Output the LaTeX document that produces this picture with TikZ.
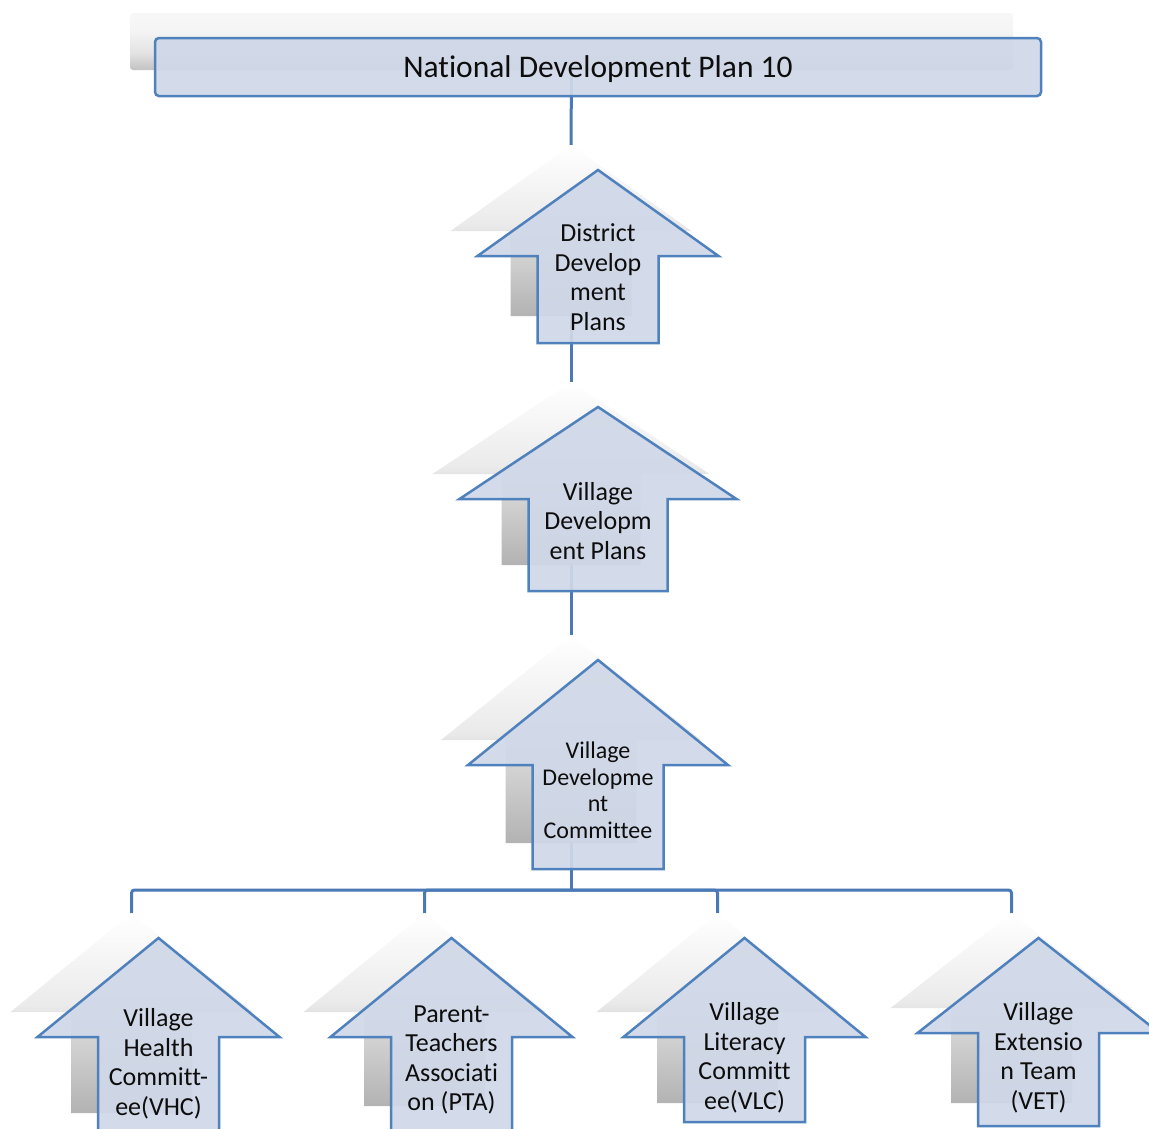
\documentclass[tikz,border=0pt]{standalone}
\usepackage{fontspec}
\setmainfont{Carlito}[Ligatures={NoCommon}]
\definecolor{arrowfill}{RGB}{208,216,232}
\definecolor{arrowline}{RGB}{79,129,189}
\definecolor{connline}{RGB}{74,122,181}
\pgfdeclareverticalshading{shadowgrad}{100bp}{color(0bp)=(black!30); color(25bp)=(black!30); color(45bp)=(black!16); color(52bp)=(black!8); color(75bp)=(white); color(100bp)=(white)}
\pgfdeclareverticalshading{boxgrad}{100bp}{color(0bp)=(black!24); color(25bp)=(black!24); color(40bp)=(black!11); color(60bp)=(black!4); color(75bp)=(black!3); color(100bp)=(black!3)}
\tikzset{
  shadowshade/.style={shading=shadowgrad, draw=none},
  arrowbox/.style={draw=arrowline, line width=2.5pt, fill=arrowfill, fill opacity=0.93, line join=miter},
  conn/.style={draw=connline, line width=3pt},
  arrowtext/.style={align=center, text=black!95, font=\fontsize{26}{29.5}\selectfont, inner sep=0pt},
}
% #1 cx, #2 tip y, #3 head base y, #4 half head width, #5 half shaft width, #6 bottom y
\newcommand{\shadowarrow}[6]{\shade[shadowshade] (#1,#2) -- (#1+#4,#3) -- (#1+#5,#3) -- (#1+#5,#6) -- (#1-#5,#6) -- (#1-#5,#3) -- (#1-#4,#3) -- cycle;}
\newcommand{\mainarrow}[6]{\path[arrowbox] (#1,#2) -- (#1+#4,#3) -- (#1+#5,#3) -- (#1+#5,#6) -- (#1-#5,#6) -- (#1-#5,#3) -- (#1-#4,#3) -- cycle;}
\begin{document}
\begin{tikzpicture}[x=1pt,y=-1pt]
\useasboundingbox (0,0) rectangle (1149,1128);
\clip (0,0) rectangle (1149,1128);
% shadow of top box
\node[shading=boxgrad, rounded corners=3pt, minimum width=883pt, minimum height=57pt, inner sep=0pt] (ndpS) at (571.5,41.5) {};
% connector coordinates (shadow tips and shadow bottoms)
\coordinate (s1tip) at (571,145);
\coordinate (s1bot) at (571,316);
\coordinate (s2tip) at (571,382);
\coordinate (s2bot) at (571,565);
\coordinate (s3tip) at (571,635);
\coordinate (s3bot) at (571,843);
\coordinate (bus) at (571,890);
\coordinate (c1tip) at (131.5,913);
\coordinate (c2tip) at (424.5,913);
\coordinate (c3tip) at (717.5,913);
\coordinate (c4tip) at (1011.5,913);
% connectors
\draw[conn] (ndpS.south) -- (s1tip);
\draw[conn] (s1bot) -- (s2tip);
\draw[conn] (s2bot) -- (s3tip);
\draw[conn] (s3bot) -- (bus);
\draw[conn, rounded corners=3pt] (bus) -| (c1tip);
\draw[conn, rounded corners=3pt] (bus) -| (c2tip);
\draw[conn, rounded corners=3pt] (bus) -| (c3tip);
\draw[conn, rounded corners=3pt] (bus) -| (c4tip);
% top box
\node[draw=arrowline, line width=2.5pt, fill=arrowfill, fill opacity=0.93, text opacity=1, rounded corners=4pt, minimum width=886pt, minimum height=58pt, inner sep=0pt] (ndp) at (598,67) {};
\node[font=\fontsize{31.5}{37}\selectfont, text=black!95, inner sep=0pt] (ndpT) at (598,69) {National Development Plan 10};
% arrow 1
\shadowarrow{571}{145}{231}{120.5}{60.5}{316}
\mainarrow{598}{170}{256}{120.5}{60.5}{343}
\node[arrowtext] (t1) at (598,277) {District\\Develop\\ment\\Plans};
% arrow 2
\shadowarrow{571}{382}{474}{138.5}{69.5}{565}
\mainarrow{598}{407}{499}{138.5}{69.5}{591}
\node[arrowtext] (t2) at (598,521) {Village\\Developm\\ent Plans};
% arrow 3
\shadowarrow{571}{635}{740}{130}{65.5}{843}
\mainarrow{598}{660}{765}{130}{65.5}{869}
\node[arrowtext, font=\fontsize{24}{26.5}\selectfont] (t3) at (598,790) {Village\\Developme\\nt\\Committee};
% bottom row
\shadowarrow{131.5}{913}{1012}{121}{60.5}{1113}
\mainarrow{158.5}{938}{1037}{121}{60.5}{1140}
\node[arrowtext] (t4) at (158.5,1064) {Village\\Health\\Committ-\\ee(VHC)};
\shadowarrow{424.5}{913}{1012}{121}{60.5}{1106}
\mainarrow{451.5}{938}{1037}{121}{60.5}{1135}
\node[arrowtext] (t5) at (451.5,1060) {Parent-\\Teachers\\Associati\\on (PTA)};
\shadowarrow{717.5}{913}{1012}{121}{60.5}{1103}
\mainarrow{744.5}{938}{1037}{121}{60.5}{1122}
\node[arrowtext] (t6) at (744.5,1058) {Village\\Literacy\\Committ\\ee(VLC)};
\shadowarrow{1011.5}{913}{1008}{121}{60.5}{1103}
\mainarrow{1038.5}{938}{1033}{121}{60.5}{1126}
\node[arrowtext] (t7) at (1038.5,1058) {Village\\Extensio\\n Team\\(VET)};
\end{tikzpicture}
\end{document}
